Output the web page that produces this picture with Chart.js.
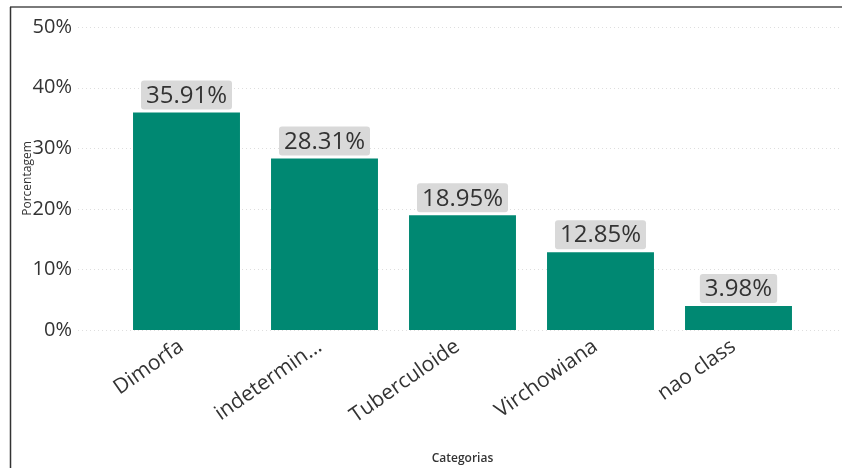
<!DOCTYPE html>
<html>
<head>
<meta charset="utf-8">
<script src="https://cdn.jsdelivr.net/npm/chart.js@4.4.1/dist/chart.umd.min.js"></script>
<style>
  html, body { margin: 0; padding: 0; background: #fff; }
  canvas { display: block; }
</style>
</head>
<body>
<canvas id="myChart" width="842" height="468"></canvas>
<script>
const categorias = ['Dimorfa', 'indetermin...', 'Tuberculoide', 'Virchowiana', 'nao class'];
const porcentagens = [35.91, 28.31, 18.95, 12.85, 3.98];
const yTicks = [0, 10, 20, 30, 40, 50];

const fonte = '"Open Sans", "Noto Sans", sans-serif';
const corTexto = '#333333';

// frame lines on the top and left edge
const moldura = {
  id: 'moldura',
  afterDraw(chart) {
    const c = chart.ctx;
    c.save();
    c.strokeStyle = '#7a7a7a';
    c.lineWidth = 2;
    c.beginPath();
    c.moveTo(10, 7);
    c.lineTo(842, 7);
    c.stroke();
    c.strokeStyle = '#333';
    c.lineWidth = 1.5;
    c.beginPath();
    c.moveTo(10.5, 7);
    c.lineTo(10.5, 468);
    c.stroke();
    c.restore();
  }
};

// dotted horizontal grid, wider than the bar area
const grade = {
  id: 'grade',
  beforeDatasetsDraw(chart) {
    const c = chart.ctx;
    const y = chart.scales.y;
    c.save();
    c.strokeStyle = '#dedede';
    c.lineWidth = 1;
    c.setLineDash([1, 3]);
    yTicks.forEach(v => {
      const py = Math.round(y.getPixelForValue(v)) + 0.5;
      c.beginPath();
      c.moveTo(78, py);
      c.lineTo(842, py);
      c.stroke();
    });
    c.restore();
  }
};

// value labels in a grey rounded box above each bar
const rotulos = {
  id: 'rotulos',
  afterDatasetsDraw(chart) {
    const c = chart.ctx;
    const meta = chart.getDatasetMeta(0);
    c.save();
    c.font = '24px ' + fonte;
    c.textAlign = 'center';
    c.textBaseline = 'middle';
    meta.data.forEach((bar, i) => {
      const txt = porcentagens[i].toFixed(2) + '%';
      const w = c.measureText(txt).width + 10;
      const h = 29;
      const x = bar.x - w / 2;
      const top = bar.y - 3 - h;
      c.fillStyle = '#d9d9d9';
      c.beginPath();
      c.roundRect(x, top, w, h, 3);
      c.fill();
      c.fillStyle = corTexto;
      c.fillText(txt, bar.x, top + h / 2 + 1);
    });
    c.restore();
  }
};

new Chart(document.getElementById('myChart'), {
  type: 'bar',
  data: {
    labels: categorias,
    datasets: [{
      data: porcentagens,
      backgroundColor: '#008872',
      barPercentage: 0.775,
      categoryPercentage: 1.0
    }]
  },
  options: {
    responsive: false,
    animation: false,
    layout: { padding: { top: 27, right: 34.5, left: 0, bottom: 0 } },
    plugins: {
      legend: { display: false },
      tooltip: { enabled: false }
    },
    scales: {
      x: {
        grid: { display: false },
        border: { display: false },
        ticks: {
          color: corTexto,
          font: { family: fonte, size: 21 },
          minRotation: 35,
          maxRotation: 35,
          autoSkip: false,
          padding: -4,
          labelOffset: -5
        },
        title: {
          display: true,
          text: 'Categorias',
          color: corTexto,
          font: { family: fonte, size: 12, weight: '600' },
          padding: { top: 0, bottom: 2 }
        },
        afterFit(scale) { scale.height = 138; }
      },
      y: {
        min: 0,
        max: 50,
        afterBuildTicks(scale) { scale.ticks = yTicks.map(v => ({ value: v })); },
        grid: { display: false, drawTicks: false },
        border: { display: false },
        ticks: {
          color: corTexto,
          font: { family: fonte, size: 20 },
          padding: 45.5,
          callback: v => v + '%'
        },
        title: {
          display: true,
          text: 'Porcentagem',
          color: corTexto,
          font: { family: fonte, size: 12 },
          padding: { top: 20, bottom: 0 }
        },
        afterFit(scale) {
          scale.width = 117.5;
          // the large tick padding should not push the plot down
          scale.paddingTop = 12;
          scale.paddingBottom = 12;
        }
      }
    }
  },
  plugins: [grade, rotulos, moldura]
});
</script>
</body>
</html>
